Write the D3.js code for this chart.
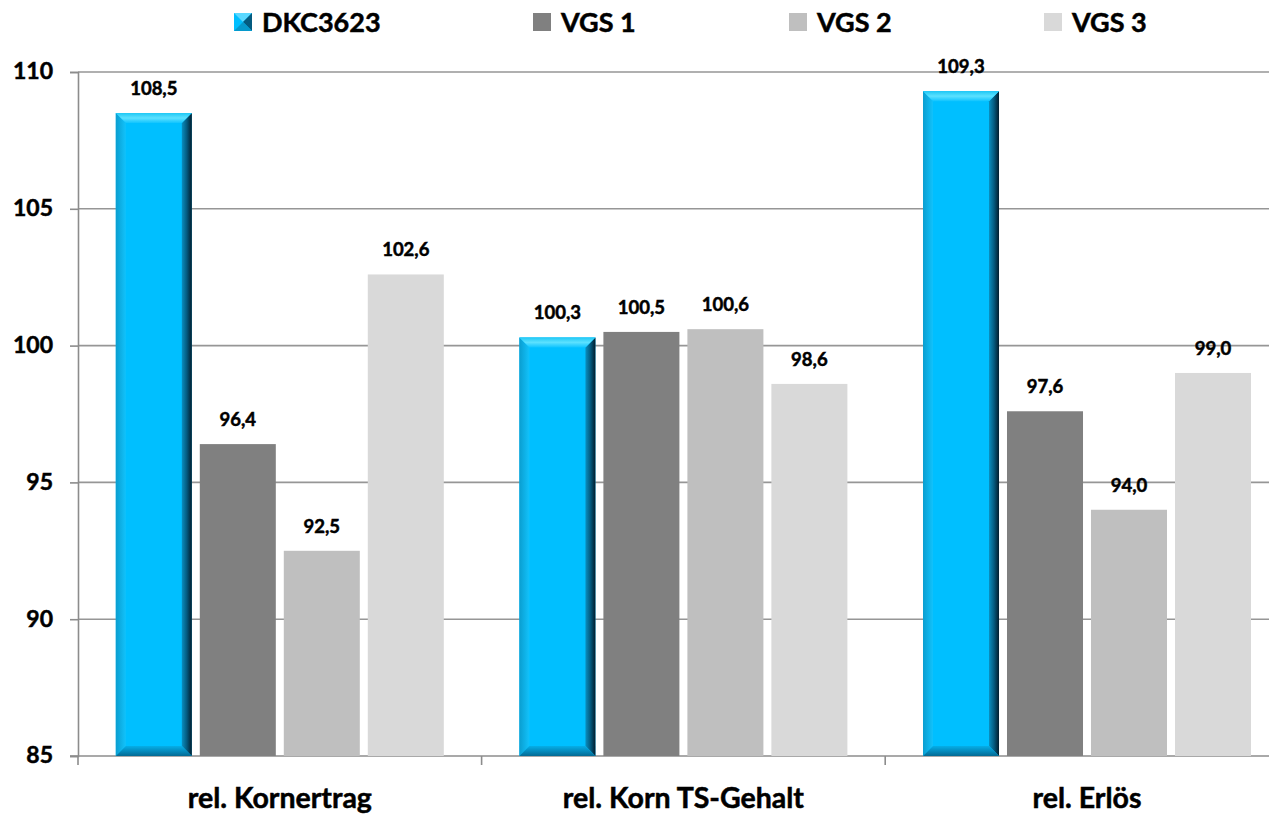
<!DOCTYPE html>
<html lang="de">
<head>
  <meta charset="UTF-8">
  <title>Relativer Vergleich</title>
  <script src="https://cdnjs.cloudflare.com/ajax/libs/d3/7.8.5/d3.min.js"></script>
  <style>
    body { margin: 0; background: #fff; }
    text { font-family: Lato, "Open Sans", sans-serif; font-weight: bold; fill: #000;
           stroke: #000; stroke-width: 0.5px; }
  </style>
</head>
<body>
<script>
var categories = ["rel. Kornertrag", "rel. Korn TS-Gehalt", "rel. Erlös"];
var seriesNames = ["DKC3623", "VGS 1", "VGS 2", "VGS 3"];
var dkc3623 = [108.5, 100.3, 109.3];
var vgs1 = [96.4, 100.5, 97.6];
var vgs2 = [92.5, 100.6, 94.0];
var vgs3 = [102.6, 98.6, 99.0];
var yTicks = [85, 90, 95, 100, 105, 110];

var series = [dkc3623, vgs1, vgs2, vgs3];
var colors = ["#00BFFF", "#808080", "#BFBFBF", "#D9D9D9"];

var width = 1269, height = 814;
var margin = {top: 72, left: 78, bottom: 58};

var svg = d3.select("body").append("svg")
    .attr("width", width)
    .attr("height", height);

// gradients for the bevelled blue bars
var defs = svg.append("defs");
function grad(id, x2, y2, stops) {
  var g = defs.append("linearGradient").attr("id", id)
      .attr("x1", 0).attr("y1", 0).attr("x2", x2).attr("y2", y2);
  stops.forEach(function(s) {
    g.append("stop").attr("offset", s[0]).attr("stop-color", s[1]);
  });
}
grad("bvTop", 0, 1, [[0, "#1fc8f5"], [0.5, "#5ce1ff"], [1, "#10c4ff"]]);
grad("bvLeft", 1, 0, [[0, "#0a9ed0"], [1, "#12c2fb"]]);
grad("bvRight", 1, 0, [[0, "#0a8fc0"], [0.5, "#045b80"], [1, "#021c2c"]]);
grad("bvBottom", 0, 1, [[0, "#05aee8"], [1, "#036a94"]]);

var y = d3.scaleLinear().domain([85, 110]).range([height - margin.bottom, margin.top]);
var x0 = d3.scaleBand().domain(categories).range([margin.left, margin.left + 3 * 403.6]);
var x1 = d3.scaleBand().domain(d3.range(4)).range([0, x0.bandwidth()])
    .paddingInner(0.095).paddingOuter(0.45);

// gridlines
svg.append("g").selectAll("line")
    .data(yTicks.slice(1))
  .enter().append("line")
    .attr("x1", margin.left).attr("x2", width)
    .attr("y1", function(d) { return y(d); })
    .attr("y2", function(d) { return y(d); })
    .style("stroke", "#969696").style("stroke-width", 1.6);

// y axis
var yAxis = svg.append("g")
    .attr("transform", "translate(" + margin.left + ",0)")
    .call(d3.axisLeft(y).tickValues(yTicks).tickSize(8).tickPadding(17));
yAxis.select(".domain").style("stroke", "#8c8c8c").style("stroke-width", 1.6);
yAxis.selectAll(".tick line").style("stroke", "#8c8c8c").style("stroke-width", 1.6);
yAxis.selectAll(".tick text").style("font-size", "23px").attr("dy", "0.3em");

// x axis
var xAxis = svg.append("g")
    .attr("transform", "translate(0," + y(85) + ")")
    .call(d3.axisBottom(x0).tickSize(0).tickPadding(32));
xAxis.select(".domain").style("stroke", "#8c8c8c").style("stroke-width", 1.6)
    .attr("d", "M" + (margin.left - 8) + ",0H" + width);
xAxis.selectAll(".tick text").style("font-size", "28.5px");
xAxis.append("g").selectAll("line")
    .data(d3.range(3))
  .enter().append("line")
    .attr("x1", function(i) { return margin.left + i * x0.step(); })
    .attr("x2", function(i) { return margin.left + i * x0.step(); })
    .attr("y1", 0).attr("y2", 9)
    .style("stroke", "#8c8c8c").style("stroke-width", 1.6);

// bars
var groups = svg.append("g").selectAll("g")
    .data(categories)
  .enter().append("g")
    .attr("transform", function(d) { return "translate(" + x0(d) + ",0)"; });

var bars = groups.selectAll("g")
    .data(function(d, ci) {
      return series.map(function(s, si) { return {si: si, v: s[ci]}; });
    })
  .enter().append("g");

bars.each(function(d) {
  var g = d3.select(this);
  var bx = x1(d.si), bw = x1.bandwidth();
  var top = y(d.v), bot = y(85);
  if (d.si > 0) {
    g.append("rect").attr("x", bx).attr("y", top)
      .attr("width", bw).attr("height", bot - top)
      .style("fill", colors[d.si]);
    return;
  }
  var b = 10, r = bx + bw;
  g.append("rect").attr("x", bx).attr("y", top)
    .attr("width", bw).attr("height", bot - top).style("fill", colors[0]);
  g.append("polygon").style("fill", "url(#bvLeft)")
    .attr("points", [[bx, top], [bx + b, top + b], [bx + b, bot - b], [bx, bot]].join(" "));
  g.append("polygon").style("fill", "url(#bvRight)")
    .attr("points", [[r, top], [r - b, top + b], [r - b, bot - b], [r, bot]].join(" "));
  g.append("polygon").style("fill", "url(#bvTop)")
    .attr("points", [[bx, top], [r, top], [r - b, top + b], [bx + b, top + b]].join(" "));
  g.append("polygon").style("fill", "url(#bvBottom)")
    .attr("points", [[bx, bot], [r, bot], [r - b, bot - b], [bx + b, bot - b]].join(" "));
});

bars.append("text")
    .attr("x", function(d) { return x1(d.si) + x1.bandwidth() / 2; })
    .attr("y", function(d) { return y(d.v) - 18; })
    .attr("text-anchor", "middle")
    .style("font-size", "18.5px")
    .text(function(d) { return d.v.toFixed(1).replace(".", ","); });

// legend
var legendX = [234, 533, 789, 1044];
var legend = svg.append("g").selectAll("g")
    .data(seriesNames)
  .enter().append("g")
    .attr("transform", function(d, i) { return "translate(" + legendX[i] + ",13)"; });

legend.append("rect")
    .attr("width", 18).attr("height", 18)
    .style("fill", function(d, i) { return colors[i]; });
legend.filter(function(d, i) { return i === 0; }).each(function() {
  var g = d3.select(this);
  g.append("polygon").attr("points", "0,0 18,0 9,9").style("fill", "#5ad8ff");
  g.append("polygon").attr("points", "18,0 18,18 9,9").style("fill", "#045b80");
  g.append("polygon").attr("points", "0,18 18,18 9,9").style("fill", "#0699cc");
});
legend.append("text")
    .attr("x", 28).attr("y", 18.5)
    .style("font-size", "27px")
    .text(function(d) { return d; });
</script>
</body>
</html>
